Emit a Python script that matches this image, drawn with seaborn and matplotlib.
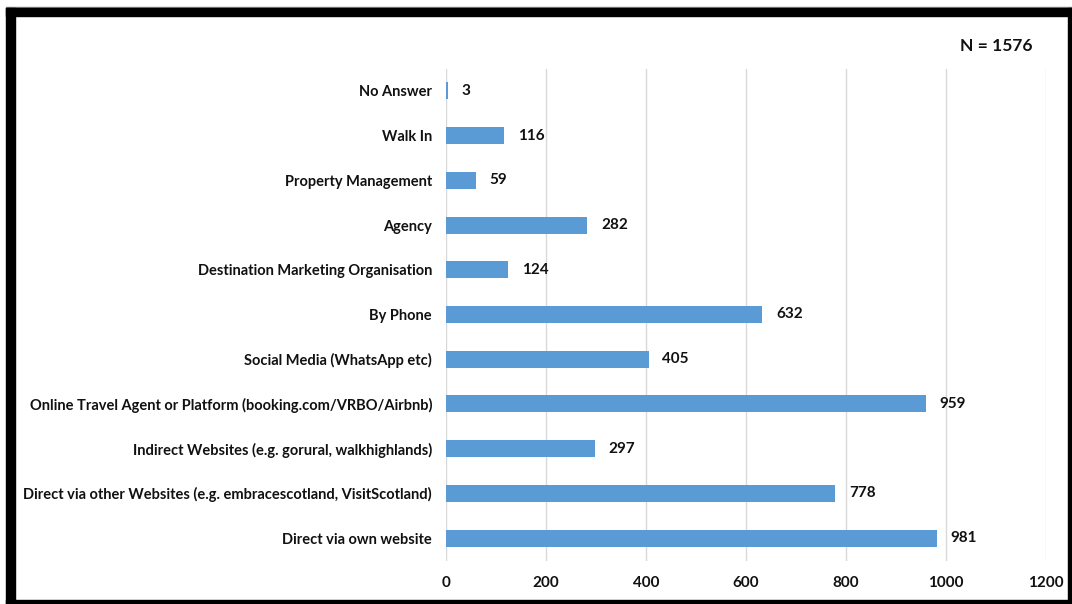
import matplotlib
matplotlib.use("Agg")
import matplotlib.pyplot as plt
from matplotlib.patches import Rectangle
import seaborn as sns
import pandas as pd

categories = [
    "No Answer",
    "Walk In",
    "Property Management",
    "Agency",
    "Destination Marketing Organisation",
    "By Phone",
    "Social Media (WhatsApp etc)",
    "Online Travel Agent or Platform (booking.com/VRBO/Airbnb)",
    "Indirect Websites (e.g. gorural, walkhighlands)",
    "Direct via other Websites (e.g. embracescotland, VisitScotland)",
    "Direct via own website",
]
counts = [3, 116, 59, 282, 124, 632, 405, 959, 297, 778, 981]
x_ticks = [0, 200, 400, 600, 800, 1000, 1200]
total_label = "N = 1576"

df = pd.DataFrame({"channel": categories, "count": counts})

sns.set_theme(style="white")
plt.rcParams["font.family"] = ["Lato", "DejaVu Sans"]

W, H = 1072, 604
fig = plt.figure(figsize=(W / 100, H / 100), dpi=100)
ax = fig.add_axes([446 / W, 1 - 560.5 / H, 600 / W, (560.5 - 68.5) / H])

sns.barplot(data=df, y="channel", x="count", order=categories, color="#5B9BD5",
            saturation=1, width=0.38, ax=ax, edgecolor="none")

ax.set_xlim(0, 1200)
ax.set_xticks(x_ticks)
ax.set_xticklabels([str(t) for t in x_ticks], fontsize=11, fontweight="bold")
ax.set_xlabel("")
ax.set_ylabel("")
ax.tick_params(axis="y", labelsize=10.5, length=0, pad=10, labelcolor="#111111")
ax.tick_params(axis="x", length=0, pad=11, labelcolor="#111111")
for lbl in ax.get_yticklabels():
    lbl.set_fontweight("bold")
ax.grid(axis="x", color="#D9D9D9", linewidth=1)
ax.set_axisbelow(True)
for s in ax.spines.values():
    s.set_visible(False)

for i, v in enumerate(counts):
    ax.annotate(str(v), (v, i), xytext=(10, 0), textcoords="offset points",
                va="center", ha="left", fontsize=11, fontweight="bold", color="#111111")

fig.text(996 / W, 1 - 46 / H, total_label, ha="center", va="center",
         fontsize=12.5, fontweight="bold", color="#111111")

# frame around the chart
def frame(x0, y0, x1, y1, color="black"):
    fig.patches.append(Rectangle((x0 / W, 1 - y1 / H), (x1 - x0) / W, (y1 - y0) / H,
                                 transform=fig.transFigure, color=color, zorder=10))

frame(6, 7, 1072, 8, color="#888888")
frame(6, 8, 1072, 16)
frame(6, 8, 15, 604)
frame(1068, 8, 1072, 604)
frame(6, 600, 1072, 604)

fig.savefig("out.png", dpi=100)
